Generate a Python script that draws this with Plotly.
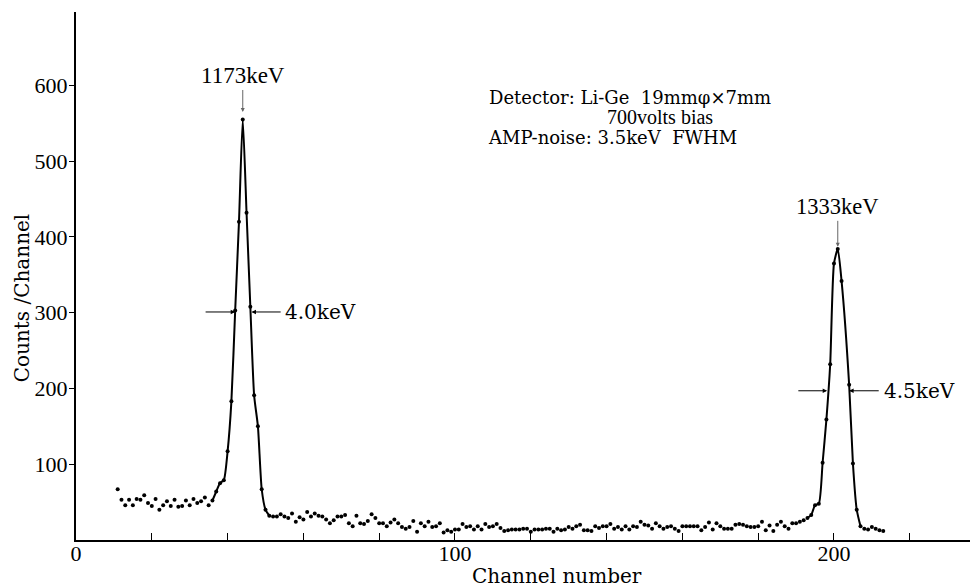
import plotly.graph_objects as go

# ---- data ----
channels = list(range(11, 203)) + list(range(204, 214))

counts_low = [67, 53, 46, 53, 46, 54, 53, 59, 49, 45, 54, 40, 46, 51, 45, 53, 44, 45, 52, 46,
              54, 49, 51, 56, 46, 52, 64, 75, 79, 117, 183, 303, 420, 555, 432, 308, 191, 150,
              67, 40, 32]                                   # channels 11-51
counts_mid1 = [31, 31, 34, 31, 29, 35, 24, 30, 27, 37, 31, 35, 32, 31, 27, 22, 26, 31, 31, 33,
               22, 18, 32, 22, 21, 25, 34, 29, 22, 22, 18, 23, 27, 22, 17, 15, 17, 25, 11, 22,
               18, 24, 17, 18, 22, 10, 13, 11, 14, 14]     # channels 52-101
counts_mid2 = [21, 17, 18, 14, 18, 14, 21, 17, 18, 21, 16, 12, 13, 14, 14, 14, 15, 15, 11, 14,
               14, 14, 15, 15, 11, 15, 13, 14, 17, 15, 18, 20, 13, 13, 12, 18, 16, 18, 18, 21,
               15, 17, 14, 18, 14, 18, 17, 24, 20, 19, 15, 22, 18, 15, 17, 18, 15, 12, 18, 18]  # 102-161
counts_mid3 = [18, 18, 18, 13, 17, 23, 14, 22, 18, 15, 15, 15, 20, 21, 20, 18, 17, 17, 18, 24,
               13, 19, 12, 20, 24, 18, 15, 22]             # channels 162-189
counts_high = [22, 24, 26, 29, 33, 46, 48, 102, 159, 232, 365, 384, 342,
               205, 101, 40, 18, 15, 14, 17, 15, 13, 12]   # channels 190-202, 204-213
counts = counts_low + counts_mid1 + counts_mid2 + counts_mid3 + counts_high

x_tick_vals = list(range(0, 240, 20))
x_tick_text = ["0" if v == 0 else (str(v) if v % 100 == 0 else "") for v in x_tick_vals]
y_tick_vals = [100, 200, 300, 400, 500, 600]

peak1_range = (36, 51)
peak2_range = (193, 207)

SERIF = "Liberation Serif"
SERIF2 = "DejaVu Serif"

fig = go.Figure()

for lo, hi in (peak1_range, peak2_range):
    px = [c for c in channels if lo <= c <= hi]
    py = [v for c, v in zip(channels, counts) if lo <= c <= hi]
    fig.add_trace(go.Scatter(x=px, y=py, mode="lines",
                             line=dict(color="black", width=2, shape="spline", smoothing=0.6),
                             hoverinfo="skip", showlegend=False))

fig.add_trace(go.Scatter(x=channels, y=counts, mode="markers",
                         marker=dict(color="black", size=4),
                         showlegend=False))

p1 = counts.index(max(counts_low))
p2 = counts.index(max(counts_high))

ann = []
# peak labels with arrows
ann.append(dict(x=channels[p1], y=counts[p1] + 10, xref="x", yref="y", text="1173keV",
                showarrow=True, ax=0, ay=-36, arrowhead=2, arrowsize=0.8, arrowwidth=1,
                arrowcolor="#666", font=dict(family=SERIF, size=23, color="black")))
ann.append(dict(x=channels[p2], y=counts[p2] + 3, xref="x", yref="y", text="1333keV",
                showarrow=True, ax=0, ay=-40, arrowhead=2, arrowsize=0.8, arrowwidth=1,
                arrowcolor="#666", font=dict(family=SERIF, size=22.5, color="black")))

# FWHM arrows
def arrow(x_tip, x_tail, yv):
    return dict(x=x_tip, y=yv, ax=x_tail, ay=yv, xref="x", yref="y", axref="x", ayref="y",
                text="", showarrow=True, arrowhead=2, arrowsize=0.9, arrowwidth=1,
                arrowcolor="black")

ann += [arrow(42.0, 33.8, 301), arrow(46.3, 54.4, 301),
        arrow(198.2, 190.2, 197), arrow(204.0, 212.2, 197)]
ann.append(dict(x=54.6, y=301, xref="x", yref="y", text="4.0keV", showarrow=False,
                xanchor="left", font=dict(family=SERIF2, size=20, color="black")))
ann.append(dict(x=212.6, y=197, xref="x", yref="y", text="4.5keV", showarrow=False,
                xanchor="left", font=dict(family=SERIF2, size=20, color="black")))

# detector description
ann.append(dict(x=108.5, y=584, xref="x", yref="y", text="Detector: Li-Ge\u00a0 19mm\u03c6\u00d77mm",
                showarrow=False, xanchor="left", font=dict(family=SERIF2, size=18, color="black")))
ann.append(dict(x=139.5, y=558, xref="x", yref="y", text="700volts bias",
                showarrow=False, xanchor="left", font=dict(family=SERIF, size=20, color="black")))
ann.append(dict(x=108.2, y=531, xref="x", yref="y", text="AMP-noise: 3.5keV\u00a0 FWHM",
                showarrow=False, xanchor="left", font=dict(family=SERIF2, size=18, color="black")))

# axis titles
ann.append(dict(x=127, y=0, xref="x", yref="paper", yanchor="top", yshift=-22,
                text="Channel number", showarrow=False,
                font=dict(family=SERIF2, size=20, color="black")))
ann.append(dict(x=0, y=319, xref="paper", yref="y", xanchor="center", xshift=-54,
                text="Counts /Channel", textangle=-90, showarrow=False,
                font=dict(family=SERIF2, size=20, color="black")))

# the page body has an 8px margin; offset margins so the plot area lands where the reference has it
fig.update_layout(
    width=978, height=588,
    margin=dict(l=68, r=8, t=4, b=56),
    paper_bgcolor="white", plot_bgcolor="white",
    showlegend=False,
    annotations=ann,
    xaxis=dict(range=[0, 238], showline=True, linecolor="black", linewidth=1.5,
               ticks="inside", ticklen=7, tickwidth=1.2, tickcolor="black",
               tickvals=x_tick_vals, ticktext=x_tick_text, ticklabelstandoff=-7,
               tickfont=dict(family=SERIF, size=22, color="black"),
               showgrid=False, zeroline=False),
    yaxis=dict(range=[0, 697], showline=True, linecolor="black", linewidth=2,
               ticks="outside", ticklen=5, tickwidth=1.2, tickcolor="black",
               tickvals=y_tick_vals, ticklabelstandoff=-3,
               tickfont=dict(family=SERIF, size=22, color="black"),
               showgrid=False, zeroline=False),
)

fig.write_html("out.html")
